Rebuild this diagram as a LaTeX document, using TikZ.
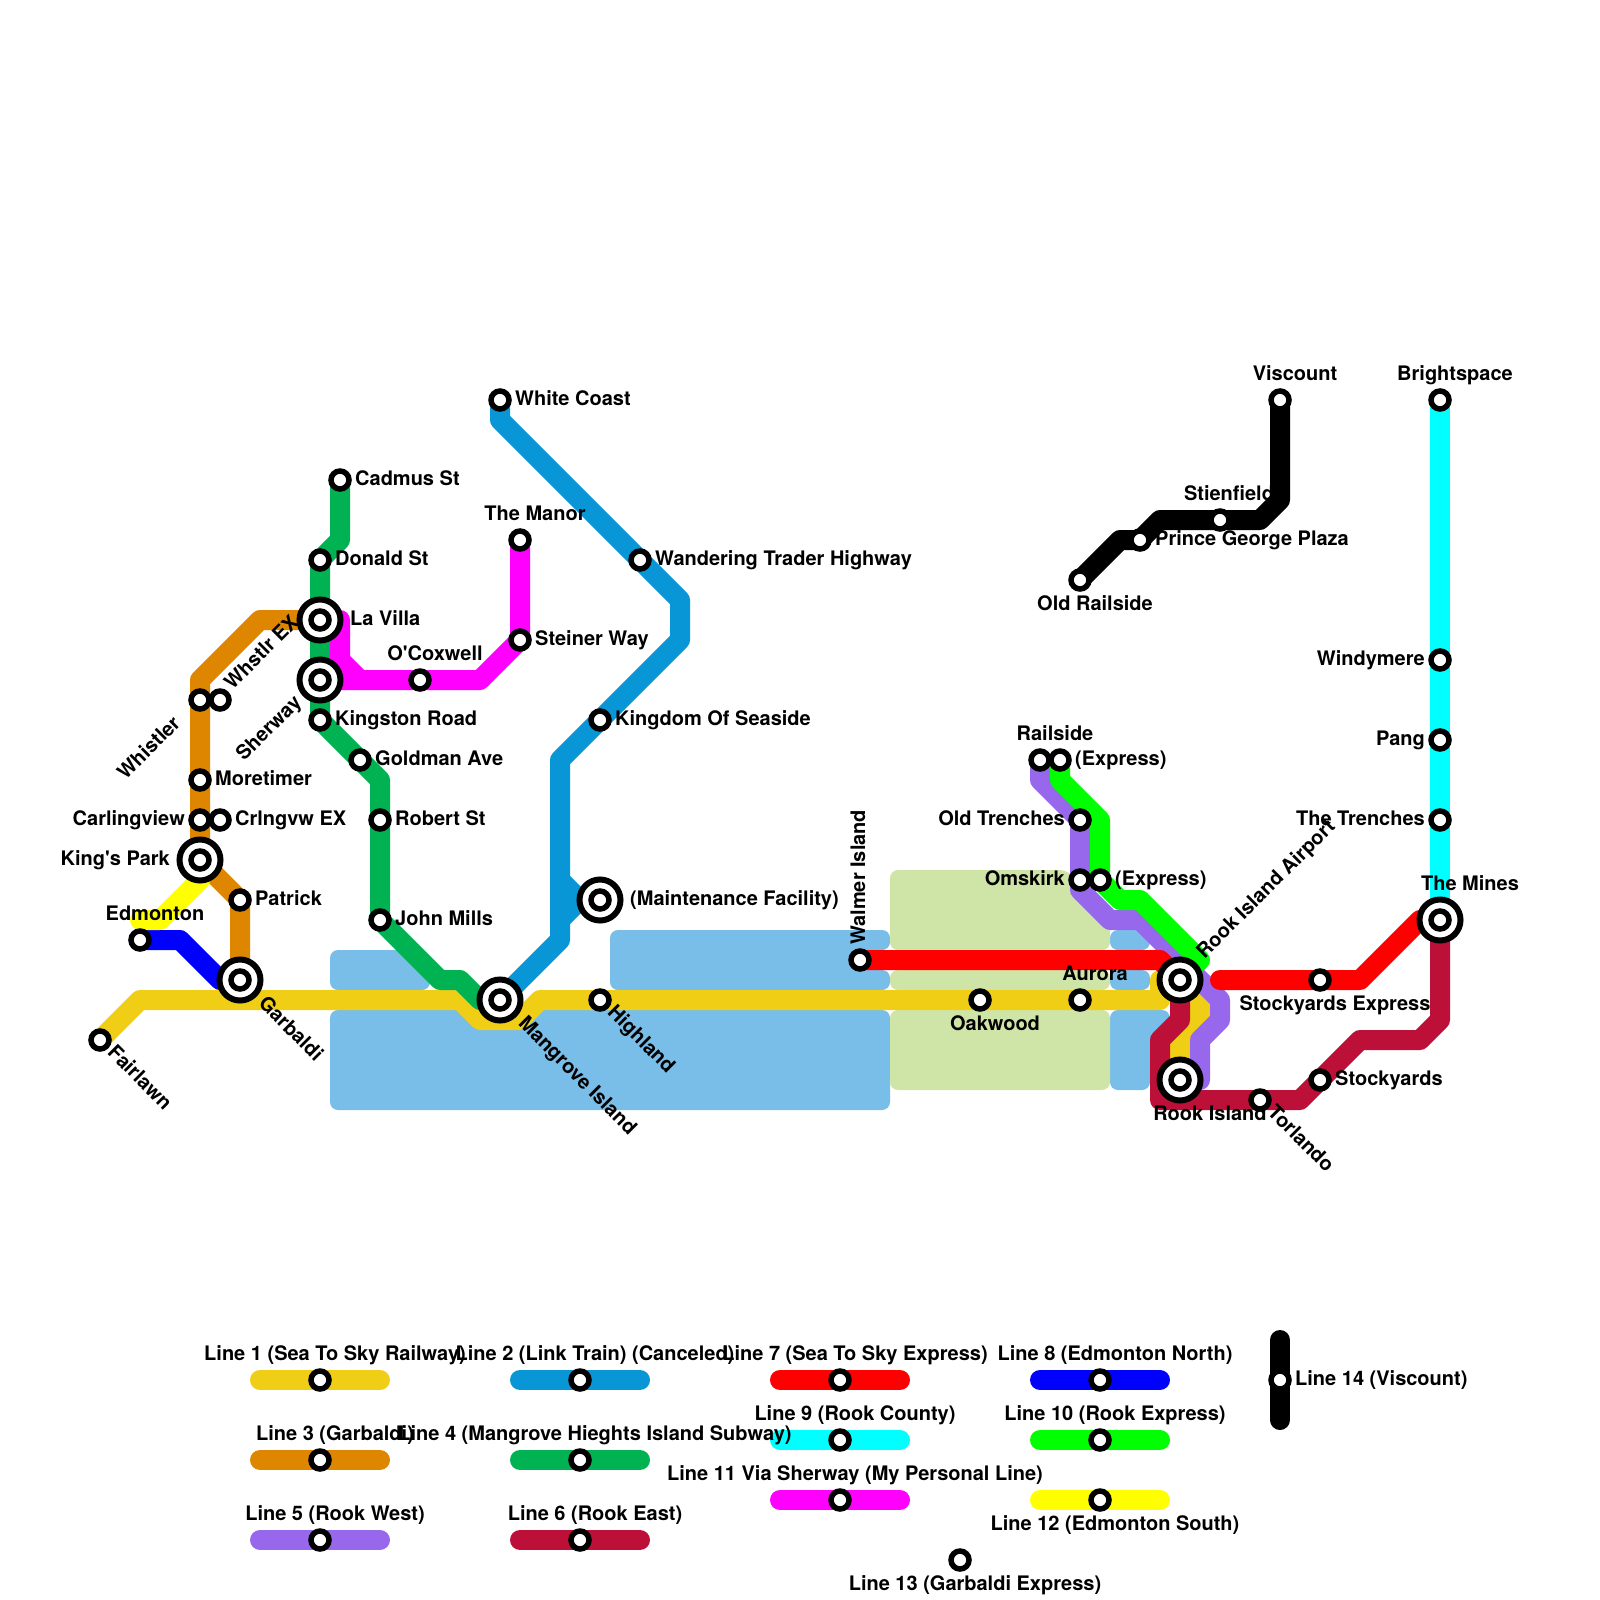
\documentclass[tikz,border=0pt]{standalone}
\usepackage{fontspec}
\usepackage{tikz}
\usetikzlibrary{backgrounds}
\newfontfamily\mapfont{TeX Gyre Heros}
\definecolor{mapgold}{HTML}{F0CE15}
\definecolor{mapblue}{HTML}{0896D7}
\definecolor{maporange}{HTML}{DF8600}
\definecolor{mapgreen}{HTML}{00B251}
\definecolor{mappurple}{HTML}{9768EC}
\definecolor{mapmaroon}{HTML}{BD1038}
\definecolor{mapred}{HTML}{FF0000}
\definecolor{mapnavy}{HTML}{0000FF}
\definecolor{mapcyan}{HTML}{00FFFF}
\definecolor{maplime}{HTML}{00FF00}
\definecolor{mappink}{HTML}{FF00FF}
\definecolor{mapyellow}{HTML}{FFFF00}
\definecolor{mapwater}{HTML}{79BDE9}
\definecolor{mapland}{HTML}{CFE4A7}
\tikzset{
  ln/.style={line width=20pt, line cap=round, line join=round},
  water/.style={fill=mapwater, rounded corners=8pt},
  land/.style={fill=mapland, rounded corners=8pt},
  stn/.style={circle, draw=black, fill=white, line width=5.5pt, minimum size=18pt, inner sep=0pt},
  hub/.style={circle, draw=black, fill=white, line width=6pt, minimum size=41pt, inner sep=0pt},
  lbl/.style={font=\mapfont\bfseries\fontsize{20}{22}\selectfont, inner sep=0pt, text=black, text height=14pt, text depth=4pt},
  lr/.style={anchor=west, xshift=15pt},
  ll/.style={anchor=east, xshift=-15pt},
  la/.style={anchor=center, xshift=15pt, yshift=25pt},
  las/.style={anchor=center, xshift=9pt, yshift=25pt},
  lb/.style={anchor=center, xshift=15pt, yshift=-25pt},
  ldn/.style={anchor=west, xshift=10pt, yshift=-10pt, rotate=-45},
  lup/.style={anchor=west, xshift=9pt, yshift=13pt, rotate=45},
  ldl/.style={anchor=east, xshift=-22pt, yshift=-21pt, rotate=45},
  lv/.style={anchor=west, xshift=0pt, yshift=15pt, rotate=90},
  hr/.style={anchor=west, xshift=30pt},
  hl/.style={anchor=east, xshift=-30pt},
  ha/.style={anchor=center, xshift=30pt, yshift=35pt},
  hb/.style={anchor=center, xshift=30pt, yshift=-35pt},
  hdn/.style={anchor=west, xshift=21pt, yshift=-21pt, rotate=-45},
  hup/.style={anchor=west, xshift=21pt, yshift=24pt, rotate=45},
  hdl/.style={anchor=east, xshift=-21pt, yshift=-20pt, rotate=45},
}

\begin{document}
\begin{tikzpicture}[x=20pt, y=-20pt]
    \useasboundingbox (0,0) rectangle (80,80);
    % stations
    \foreach \nm/\x/\y/\pos/\tx in {
      fairlawn/5/52/ldn/{Fairlawn},
      edmonton/7/47/la/{Edmonton},
      whistler/10/35/ldl/{Whistler},
      whstlrex/11/35/lup/{Whstlr EX},
      moretimer/10/39/lr/{Moretimer},
      carling/10/41/ll/{Carlingview},
      crlngvw/11/41/lr/{Crlngvw EX},
      patrick/12/45/lr/{Patrick},
      cadmus/17/24/lr/{Cadmus St},
      donald/16/28/lr/{Donald St},
      kingston/16/36/lr/{Kingston Road},
      goldman/18/38/lr/{Goldman Ave},
      robert/19/41/lr/{Robert St},
      johnmills/19/46/lr/{John Mills},
      coxwell/21/34/la/{O'Coxwell},
      whitecoast/25/20/lr/{White Coast},
      manor/26/27/la/{The Manor},
      steiner/26/32/lr/{Steiner Way},
      wandering/32/28/lr/{Wandering Trader Highway},
      kingdom/30/36/lr/{Kingdom Of Seaside},
      highland/30/50/ldn/{Highland},
      walmer/43/48/lv/{Walmer Island},
      oakwood/49/50/lb/{Oakwood},
      aurora/54/50/la/{Aurora},
      railside/52/38/la/{Railside},
      railexp/53/38/lr/{(Express)},
      oldtrench/54/41/ll/{Old Trenches},
      omskirk/54/44/ll/{Omskirk},
      omskexp/55/44/lr/{(Express)},
      oldrail/54/29/lb/{Old Railside},
      prince/57/27/lr/{Prince George Plaza},
      stienfield/61/26/las/{Stienfield},
      viscount/64/20/la/{Viscount},
      torlando/63/55/ldn/{Torlando},
      stockyards/66/54/lr/{Stockyards},
      stockexp/66/49/lb/{Stockyards Express},
      brightspace/72/20/la/{Brightspace},
      windymere/72/33/ll/{Windymere},
      pang/72/37/ll/{Pang},
      trenches/72/41/ll/{The Trenches},
      leg1/16/69/la/{Line 1 (Sea To Sky Railway)},
      leg3/16/73/la/{Line 3 (Garbaldi)},
      leg5/16/77/la/{Line 5 (Rook West)},
      leg2/29/69/la/{Line 2 (Link Train) (Canceled)},
      leg4/29/73/la/{Line 4 (Mangrove Hieghts Island Subway)},
      leg6/29/77/la/{Line 6 (Rook East)},
      leg7/42/69/la/{Line 7 (Sea To Sky Express)},
      leg9/42/72/la/{Line 9 (Rook County)},
      leg11/42/75/la/{Line 11 Via Sherway (My Personal Line)},
      leg8/55/69/la/{Line 8 (Edmonton North)},
      leg10/55/72/la/{Line 10 (Rook Express)},
      leg12/55/75/lb/{Line 12 (Edmonton South)},
      leg13/48/78/lb/{Line 13 (Garbaldi Express)},
      leg14/64/69/lr/{Line 14 (Viscount)}}
    { \node[stn] (\nm) at (\x,\y) {};
      \node[lbl, \pos] (\nm-t) at (\x,\y) {\tx}; }
    \foreach \nm/\x/\y/\pos/\tx in {
      lavilla/16/31/hr/{La Villa},
      sherway/16/34/hdl/{Sherway},
      kingspark/10/43/hl/{King's Park},
      garbaldi/12/49/hdn/{Garbaldi},
      mangrove/25/50/hdn/{Mangrove Island},
      maint/30/45/hr/{(Maintenance Facility)},
      airport/59/49/hup/{Rook Island Airport},
      rook/59/54/hb/{Rook Island},
      mines/72/46/ha/{The Mines}}
    { \node[hub] (\nm) at (\x,\y) {};
      \node[stn] (\nm-c) at (\x,\y) {};
      \node[lbl, \pos] (\nm-t) at (\x,\y) {\tx}; }
    \coordinate (edmtop) at (7,46);
    \coordinate (redstart) at (61,49);
    \coordinate (mainfork) at (29,45);
    \begin{scope}[on background layer]
      % water and land
      \fill[water] (16.5,47.5) -- (20.25,47.5) -- (21.5,48.75) -- (21.5,49.5) -- (16.5,49.5) -- cycle;
      \fill[water] (30.5,46.5) -- (44.5,46.5) -- (44.5,47.5) -- (43,47.5) -- (43,48.5) -- (44.5,48.5) -- (44.5,49.5) -- (30.5,49.5) -- cycle;
      \fill[water] (16.5,50.5) rectangle (44.5,55.5);
      \fill[water] (55.5,46.5) rectangle (57.5,47.5);
      \fill[water] (55.5,48.5) rectangle (57.5,49.5);
      \fill[water] (55.5,50.5) -- (58.5,50.5) -- (58.5,51.5) -- (57.5,52.5) -- (57.5,54.5) -- (55.5,54.5) -- cycle;
      \fill[land] (44.5,43.5) -- (53.35,43.5) -- (55.5,45.65) -- (55.5,47.5) -- (44.5,47.5) -- cycle;
      \fill[land] (44.5,48.5) rectangle (55.5,49.5);
      \fill[land] (44.5,50.5) rectangle (55.5,54.5);
      % lines
      \draw[ln, mapgold] (fairlawn.center) -- (7,50) -- (23,50) -- (24,51) -- (26,51) -- (27,50) -- (58,50) -- (58,49) -- (airport.center) -- (60,50) -- (60,51) -- (59,52) -- (rook.center);
      \draw[ln, mapblue] (whitecoast.center) -- (25,21) -- (34,30) -- (34,32) -- (28,38) -- (28,47) -- (mangrove.center);
      \draw[ln, mapblue] (28,44) -- (mainfork) -- (28,46);
      \draw[ln, mapblue] (mainfork) -- (maint.center);
      \draw[ln, maporange] (lavilla.center) -- (13,31) -- (10,34) -- (kingspark.center) -- (patrick.center) -- (garbaldi.center);
      \draw[ln, mapgreen] (cadmus.center) -- (17,27) -- (donald.center) -- (kingston.center) -- (19,39) -- (johnmills.center) -- (22,49) -- (23,49) -- (24,50) -- (mangrove.center);
      \draw[ln, mappurple] (railside.center) -- (52,39) -- (oldtrench.center) -- (54,44.5) -- (55.5,46) -- (57,46) -- (61,50) -- (61,51) -- (60,52) -- (60,54) -- (rook.center);
      \draw[ln, mapmaroon] (airport.center) -- (59,51) -- (58,52) -- (58,55) -- (65,55) -- (68,52) -- (71,52) -- (72,51) -- (mines.center);
      \draw[ln, mapred] (walmer.center) -- (58,48) -- (airport.center);
      \draw[ln, mapred] (redstart) -- (68,49) -- (71,46) -- (mines.center);
      \draw[ln, mapnavy] (edmonton.center) -- (9,47) -- (11,49) -- (garbaldi.center);
      \draw[ln, mapcyan] (brightspace.center) -- (mines.center);
      \draw[ln, maplime] (railexp.center) -- (53,39) -- (55,41) -- (omskexp.center) -- (56,45) -- (57,45) -- (60,48) -- (airport.center);
      \draw[ln, mappink] (lavilla.center) -- (17,31) -- (17,33) -- (18,34);
      \draw[ln, mappink] (sherway.center) -- (24,34) -- (steiner.center) -- (manor.center);
      \draw[ln, mapyellow] (kingspark.center) -- (10,44) -- (8,46) -- (edmtop);
      \draw[ln, black] (oldrail.center) -- (56,27) -- (57,27) -- (58,26) -- (63,26) -- (64,25) -- (viscount.center);
      % legend strips
      \foreach \nm/\colr in {leg1/mapgold, leg3/maporange, leg5/mappurple, leg2/mapblue, leg4/mapgreen, leg6/mapmaroon, leg7/mapred, leg9/mapcyan, leg11/mappink, leg8/mapnavy, leg10/maplime, leg12/mapyellow}
      { \draw[ln, \colr] (\nm.center) ++(-3,0) -- ++(6,0); }
      \draw[ln, black] (leg14.center) ++(0,-2) -- ++(0,4);
    \end{scope}
  \end{tikzpicture}
\end{document}
